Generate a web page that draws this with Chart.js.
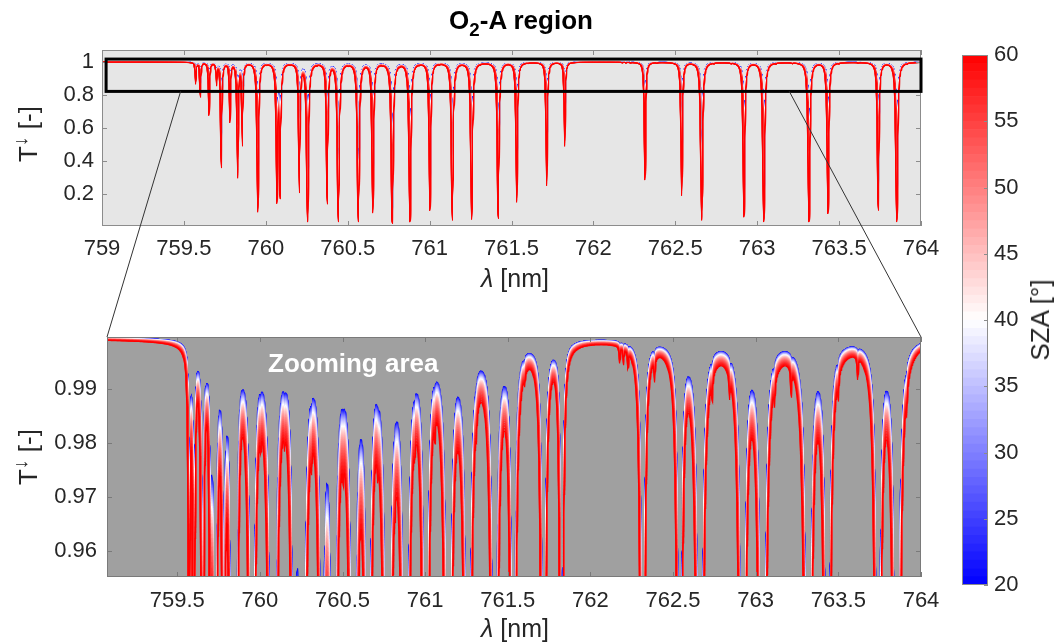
<!DOCTYPE html>
<html lang="en">
<head>
<meta charset="UTF-8">
<title>O2-A region</title>
<script src="https://cdn.jsdelivr.net/npm/chart.js"></script>
<style>
  html, body { margin: 0; padding: 0; background: #fff; }
  body { width: 1054px; height: 644px; position: relative; overflow: hidden;
         font-family: "Liberation Sans", Arial, Helvetica, sans-serif; color: #262626; }
  canvas { position: absolute; left: 0; top: 0; }
  .txt { position: absolute; white-space: nowrap; line-height: 1; transform: translate(-50%, -50%); }
  .rot { transform: translate(-50%, -50%) rotate(-90deg); }
  .title { font-weight: bold; font-size: 26px; color: #000; }
  .title sub { font-size: 0.72em; vertical-align: -0.4em; line-height: 0; }
  .axt { font-size: 25px; }
  .axt sup { font-size: 0.75em; vertical-align: 0.5em; line-height: 0; }
  .big { font-size: 26px; }
  .zoomlab { font-weight: bold; font-size: 26px; color: #fff; transform: none; }
</style>
</head>
<body>
<canvas id="topChart" width="1054" height="644"></canvas>
<canvas id="bottomChart" width="1054" height="644"></canvas>
<canvas id="barChart" width="1054" height="644"></canvas>
<canvas id="links" width="1054" height="644"></canvas>

<div class="txt title" style="left:521px;top:20px">O<sub>2</sub>-A region</div>
<div class="txt axt" style="left:515px;top:278px"><i>λ</i> [nm]</div>
<div class="txt axt" style="left:515px;top:628px"><i>λ</i> [nm]</div>
<div class="txt axt big rot" style="left:28px;top:134px">T<sup>↓</sup> [-]</div>
<div class="txt axt big rot" style="left:28px;top:457px">T<sup>↓</sup> [-]</div>
<div class="txt axt big rot" style="left:1040px;top:320px">SZA [°]</div>
<div class="txt zoomlab" style="left:268px;top:350px">Zooming area</div>

<script>
// absorption lines (centre wavelength, transmittance at SZA 60°)
const lineCenters = [
    759.572, 759.600, 759.653, 759.700, 759.728, 759.781, 759.828, 759.857, 759.951,
    760.006, 760.068, 760.087, 760.149, 760.205, 760.255, 760.313, 760.375, 760.443,
    760.504, 760.565, 760.600, 760.653, 760.713, 760.772, 760.818, 760.880, 760.937,
    761.002, 761.060, 761.139, 761.257, 761.310, 761.419, 761.532, 761.602, 761.715,
    761.825, 762.177, 762.200, 762.227, 762.315, 762.388, 762.539, 762.661, 762.737,
    762.842, 762.919, 763.040, 763.114, 763.215, 763.316, 763.432, 763.500, 763.617,
    763.739, 763.852, 763.913
];
const lineDepth60 = [
    0.87, 0.79, 0.68, 0.87, 0.36, 0.64, 0.30, 0.50, 0.09,
    0.997, 0.15, 0.18, 0.997, 0.21, 0.03, 0.996, 0.14, 0.03,
    0.996, 0.03, 0.997, 0.085, 0.996, 0.02, 0.997, 0.03, 0.997,
    0.10, 0.996, 0.04, 0.045, 0.997, 0.05, 0.15, 0.998, 0.25,
    0.49, 0.997, 0.997, 0.997, 0.285, 0.996, 0.19, 0.04, 0.996,
    0.996, 0.06, 0.03, 0.996, 0.995, 0.03, 0.08, 0.996, 0.996,
    0.10, 0.03, 0.996
];
const lineHalfWidth = 0.0032;   // nm
const continuumTau = 0.0003;

// solar zenith angles of the plotted curves
const szaAngles = [20, 21, 22, 23, 24, 25, 26, 27, 28, 29, 30, 31, 32, 33, 34, 35, 36, 37, 38, 39, 40,
                   41, 42, 43, 44, 45, 46, 47, 48, 49, 50, 51, 52, 53, 54, 55, 56, 57, 58, 59, 60];

// axes
const xTicksTop = [759, 759.5, 760, 760.5, 761, 761.5, 762, 762.5, 763, 763.5, 764];
const yTicksTop = [0.2, 0.4, 0.6, 0.8, 1];
const xTicksBottom = [759.5, 760, 760.5, 761, 761.5, 762, 762.5, 763, 763.5, 764];
const yTicksBottom = [0.96, 0.97, 0.98, 0.99];
const szaTicks = [20, 25, 30, 35, 40, 45, 50, 55, 60];
const colorLevels = 64;

// zoom box in the upper panel and where the guide lines leave it
const zoomBoxLambda = [759.025, 764.0];
const zoomBoxT = [0.822, 1.018];
const linkLambda = [759.48, 763.196];

Chart.defaults.font.family = '"Liberation Sans", Arial, Helvetica, sans-serif';
Chart.defaults.font.size = 22;
Chart.defaults.color = '#262626';

function szaColor(s) {
    const f = (s - 20) / 40;
    let r, g, b;
    if (f < 0.5) { r = g = Math.round(255 * f / 0.5); b = 255; }
    else { r = 255; g = b = Math.round(255 * (1 - (f - 0.5) / 0.5)); }
    return 'rgb(' + r + ',' + g + ',' + b + ')';
}
const airmass = sza => 1 / Math.cos(sza * Math.PI / 180);

// optical depth on a wavelength grid
const lineTau = lineDepth60.map(t => -Math.log(t) / airmass(60));
const grid = [];
for (let i = 0; i <= 5000; i++) grid.push(+(759 + i * 0.001).toFixed(4));
lineCenters.forEach(c => grid.push(c));
grid.sort((a, b) => a - b);
const g2 = lineHalfWidth * lineHalfWidth;
const tau = grid.map(l => {
    let s = continuumTau;
    for (let k = 0; k < lineCenters.length; k++) {
        const d = l - lineCenters[k];
        s += lineTau[k] * g2 / (d * d + g2);
    }
    return s;
});

function spectrumDatasets(xFrom, width) {
    // red curves first so they are drawn on top
    return szaAngles.slice().reverse().map(s => {
        const m = airmass(s);
        const data = [];
        grid.forEach((l, i) => { if (l >= xFrom) data.push({ x: l, y: Math.exp(-m * tau[i]) }); });
        return {
            label: 'SZA ' + s,
            data: data,
            borderColor: szaColor(s),
            borderWidth: width,
            pointRadius: 0,
            fill: false,
            tension: 0
        };
    });
}

const framePlugin = {
    id: 'frame',
    beforeDraw(chart, args, opts) {
        const a = chart.chartArea, ctx = chart.ctx;
        ctx.save();
        ctx.fillStyle = opts.bg;
        ctx.fillRect(a.left, a.top, a.right - a.left, a.bottom - a.top);
        ctx.restore();
    },
    afterDraw(chart, args, opts) {
        const a = chart.chartArea, ctx = chart.ctx;
        const L = opts.tick;
        ctx.save();
        ctx.strokeStyle = opts.color;
        ctx.lineWidth = 1;
        ctx.strokeRect(a.left + 0.5, a.top + 0.5, a.right - a.left - 1, a.bottom - a.top - 1);
        ctx.beginPath();
        chart.scales.x.ticks.forEach(t => {
            const p = Math.round(chart.scales.x.getPixelForValue(t.value)) + 0.5;
            ctx.moveTo(p, a.bottom); ctx.lineTo(p, a.bottom - L);
            ctx.moveTo(p, a.top); ctx.lineTo(p, a.top + L);
        });
        chart.scales.y.ticks.forEach(t => {
            const p = Math.round(chart.scales.y.getPixelForValue(t.value)) + 0.5;
            ctx.moveTo(a.left, p); ctx.lineTo(a.left + L, p);
            ctx.moveTo(a.right, p); ctx.lineTo(a.right - L, p);
        });
        ctx.stroke();
        ctx.restore();
    }
};

const zoomBoxPlugin = {
    id: 'zoomBox',
    afterDraw(chart) {
        const { x, y } = chart.scales, ctx = chart.ctx;
        const l = x.getPixelForValue(zoomBoxLambda[0]), r = x.getPixelForValue(zoomBoxLambda[1]);
        const t = y.getPixelForValue(zoomBoxT[1]), b = y.getPixelForValue(zoomBoxT[0]);
        ctx.save();
        ctx.strokeStyle = '#000';
        ctx.lineWidth = 3;
        ctx.strokeRect(l, t, r - l, b - t);
        ctx.restore();
    }
};

function spectrumChart(id, c) {
    return new Chart(document.getElementById(id), {
        type: 'line',
        data: { datasets: spectrumDatasets(c.xMin - 0.01, c.lineWidth) },
        options: {
            responsive: false,
            animation: false,
            parsing: false,
            normalized: true,
            events: [],
            layout: { padding: c.padding },
            plugins: {
                legend: { display: false },
                tooltip: { enabled: false },
                frame: { bg: c.bg, color: c.frameColor, tick: 5 }
            },
            scales: {
                x: {
                    type: 'linear', min: c.xMin, max: c.xMax,
                    grid: { display: false, drawTicks: false },
                    border: { display: false },
                    afterBuildTicks: s => { s.ticks = c.xTicks.map(v => ({ value: v })); },
                    afterFit: s => { s.height = 40; },
                    ticks: { padding: c.xPad, maxRotation: 0, autoSkip: false, callback: v => String(v) }
                },
                y: {
                    type: 'linear', min: c.yMin, max: c.yMax,
                    grid: { display: false, drawTicks: false },
                    border: { display: false },
                    afterBuildTicks: s => { s.ticks = c.yTicks.map(v => ({ value: v })); },
                    afterFit: s => { s.width = c.padding.yWidth; },
                    ticks: { padding: c.yPad, autoSkip: false, callback: v => String(v) }
                }
            }
        },
        plugins: c.plugins
    });
}

const topChart = spectrumChart('topChart', {
    xMin: 759, xMax: 764, yMin: 0.006, yMax: 1.073,
    xTicks: xTicksTop, yTicks: yTicksTop, xPad: 10, yPad: 8, lineWidth: 1,
    bg: '#e6e6e6', frameColor: '#8c8c8c',
    padding: { left: 0, right: 133, top: 50, bottom: 378, yWidth: 102 },
    plugins: [framePlugin, zoomBoxPlugin]
});

const bottomChart = spectrumChart('bottomChart', {
    xMin: 759.075, xMax: 764, yMin: 0.9552, yMax: 0.9997,
    xTicks: xTicksBottom, yTicks: yTicksBottom, xPad: 11, yPad: 10, lineWidth: 1.2,
    bg: '#a0a0a0', frameColor: '#7a7a7a',
    padding: { left: 0, right: 133, top: 337, bottom: 27, yWidth: 107 },
    plugins: [framePlugin]
});

// colour bar
const bandSize = (szaAngles[szaAngles.length - 1] - szaAngles[0]) / colorLevels;
const bands = [];
for (let i = 0; i < colorLevels; i++) {
    const lo = szaAngles[0] + i * bandSize;
    bands.push({ lo: lo, hi: lo + bandSize, color: szaColor(lo + bandSize / 2) });
}
const colorbarPlugin = {
    id: 'cbFrame',
    afterDraw(chart) {
        const a = chart.chartArea, ctx = chart.ctx, y = chart.scales.y;
        ctx.save();
        ctx.strokeStyle = '#8c8c8c';
        ctx.lineWidth = 1;
        ctx.strokeRect(a.left + 0.5, a.top + 0.5, a.right - a.left - 1, a.bottom - a.top - 1);
        ctx.beginPath();
        y.ticks.forEach(t => {
            const p = Math.round(y.getPixelForValue(t.value)) + 0.5;
            ctx.moveTo(a.right, p); ctx.lineTo(a.right - 4, p);
        });
        ctx.stroke();
        ctx.restore();
    }
};
new Chart(document.getElementById('barChart'), {
    type: 'bar',
    data: {
        labels: ['SZA'],
        datasets: bands.map(b => ({
            data: [[b.lo, b.hi]],
            backgroundColor: b.color,
            borderWidth: 0,
            barPercentage: 1,
            categoryPercentage: 1,
            grouped: false
        }))
    },
    options: {
        responsive: false,
        animation: false,
        events: [],
        layout: { padding: { left: 962, right: 6, top: 55, bottom: 59 } },
        plugins: { legend: { display: false }, tooltip: { enabled: false } },
        scales: {
            x: { display: false },
            y: {
                position: 'right', min: 20, max: 60,
                grid: { display: false, drawTicks: false },
                border: { display: false },
                afterBuildTicks: s => { s.ticks = szaTicks.map(v => ({ value: v })); },
                afterFit: s => { s.width = 60; },
                ticks: { padding: 6, callback: v => String(v) }
            }
        }
    },
    plugins: [colorbarPlugin]
});

// guide lines from the zoom box to the lower panel
(function drawLinks() {
    const ctx = document.getElementById('links').getContext('2d');
    const tx = topChart.scales.x, ty = topChart.scales.y;
    const area = bottomChart.chartArea;
    const yFrom = ty.getPixelForValue(zoomBoxT[0]);
    ctx.strokeStyle = '#333';
    ctx.lineWidth = 1;
    ctx.beginPath();
    ctx.moveTo(tx.getPixelForValue(linkLambda[0]), yFrom);
    ctx.lineTo(area.left, area.top);
    ctx.moveTo(tx.getPixelForValue(linkLambda[1]), yFrom);
    ctx.lineTo(area.right, area.top);
    ctx.stroke();
})();
</script>
</body>
</html>
